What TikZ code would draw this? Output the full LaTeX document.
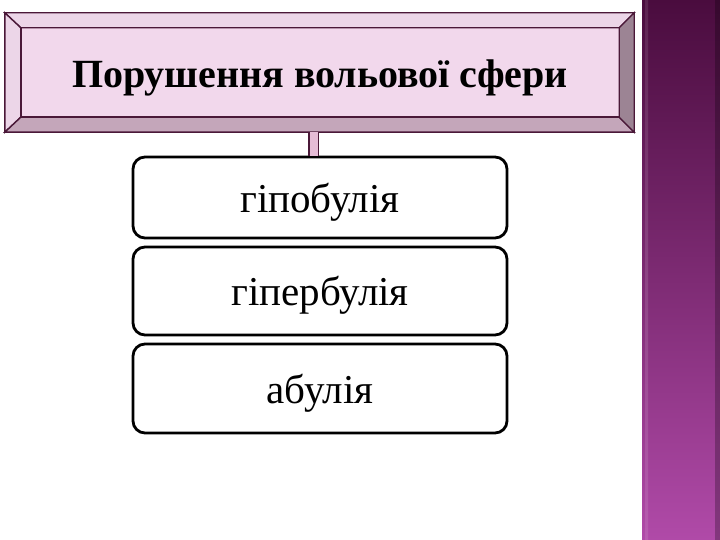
\documentclass[tikz,border=0pt]{standalone}
\usepackage{fontspec}
\setmainfont{Liberation Serif}
\begin{document}
\begin{tikzpicture}[x=1pt,y=-1pt,
  edgeline/.style={draw=frameline, line width=1.4pt, line join=miter},
  itembox/.style={draw=black, line width=2.8pt, rounded corners=12pt, fill=white,
    minimum width=374pt, inner sep=0pt, text height=34pt, text depth=5pt,
    font=\fontsize{41}{45}\selectfont},
  ]
\definecolor{frameline}{HTML}{4A1838}
\definecolor{facelight}{HTML}{ECD6E8}
\definecolor{facedark}{HTML}{C4A6BA}
\definecolor{faceside}{HTML}{9C8494}
\definecolor{innerfill}{HTML}{F2D8EC}
\definecolor{bandtop}{HTML}{4A0C3E}
\definecolor{bandmid}{HTML}{7C2A72}
\definecolor{bandbot}{HTML}{B04AA8}
\definecolor{connfill}{HTML}{E6BCD6}
\useasboundingbox (0,0) rectangle (720,540);
\fill[white] (0,0) rectangle (720,540);
% right decorative band
\shade[top color=bandtop, bottom color=bandbot, middle color=bandmid] (642,0) rectangle (720,540);
\shade[top color=bandtop!80!white, bottom color=bandbot!80!white, middle color=bandmid!75!white, opacity=0.5] (645,0) rectangle (648,540);
\fill[black, opacity=0.25] (715,0) rectangle (720,540);
% title frame
\node[minimum width=629pt, minimum height=119pt, inner sep=0pt] (fo) at (319.5,72.5) {};
\node[minimum width=598pt, minimum height=89pt, inner sep=0pt, fill=innerfill] (title) at (320,72.5) {};
\filldraw[edgeline, fill=facelight] (fo.north west) -- (fo.north east) -- (title.north east) -- (title.north west) -- cycle;
\filldraw[edgeline, fill=facelight] (fo.north west) -- (title.north west) -- (title.south west) -- (fo.south west) -- cycle;
\filldraw[edgeline, fill=facedark] (fo.south west) -- (title.south west) -- (title.south east) -- (fo.south east) -- cycle;
\filldraw[edgeline, fill=faceside] (fo.north east) -- (title.north east) -- (title.south east) -- (fo.south east) -- cycle;
\draw[edgeline] (title.north west) rectangle (title.south east);
\node[font=\bfseries\fontsize{40}{44}\selectfont, inner sep=0pt] (titletext) at ([yshift=-5pt]title.center) {Порушення вольової сфери};
% items
\node[itembox, minimum height=81pt] (b1) at (320,197.5) {гіпобулія};
\node[itembox, minimum height=88pt] (b2) at (320,291) {гіпербулія};
\node[itembox, minimum height=89pt] (b3) at (320,388.5) {абулія};
% connector
\coordinate (ctop) at ([xshift=-6pt]fo.south);
\draw[draw=frameline, line width=1.6pt, double=connfill, double distance=8pt]
  (ctop) -- (ctop |- b1.north);
\end{tikzpicture}
\end{document}
